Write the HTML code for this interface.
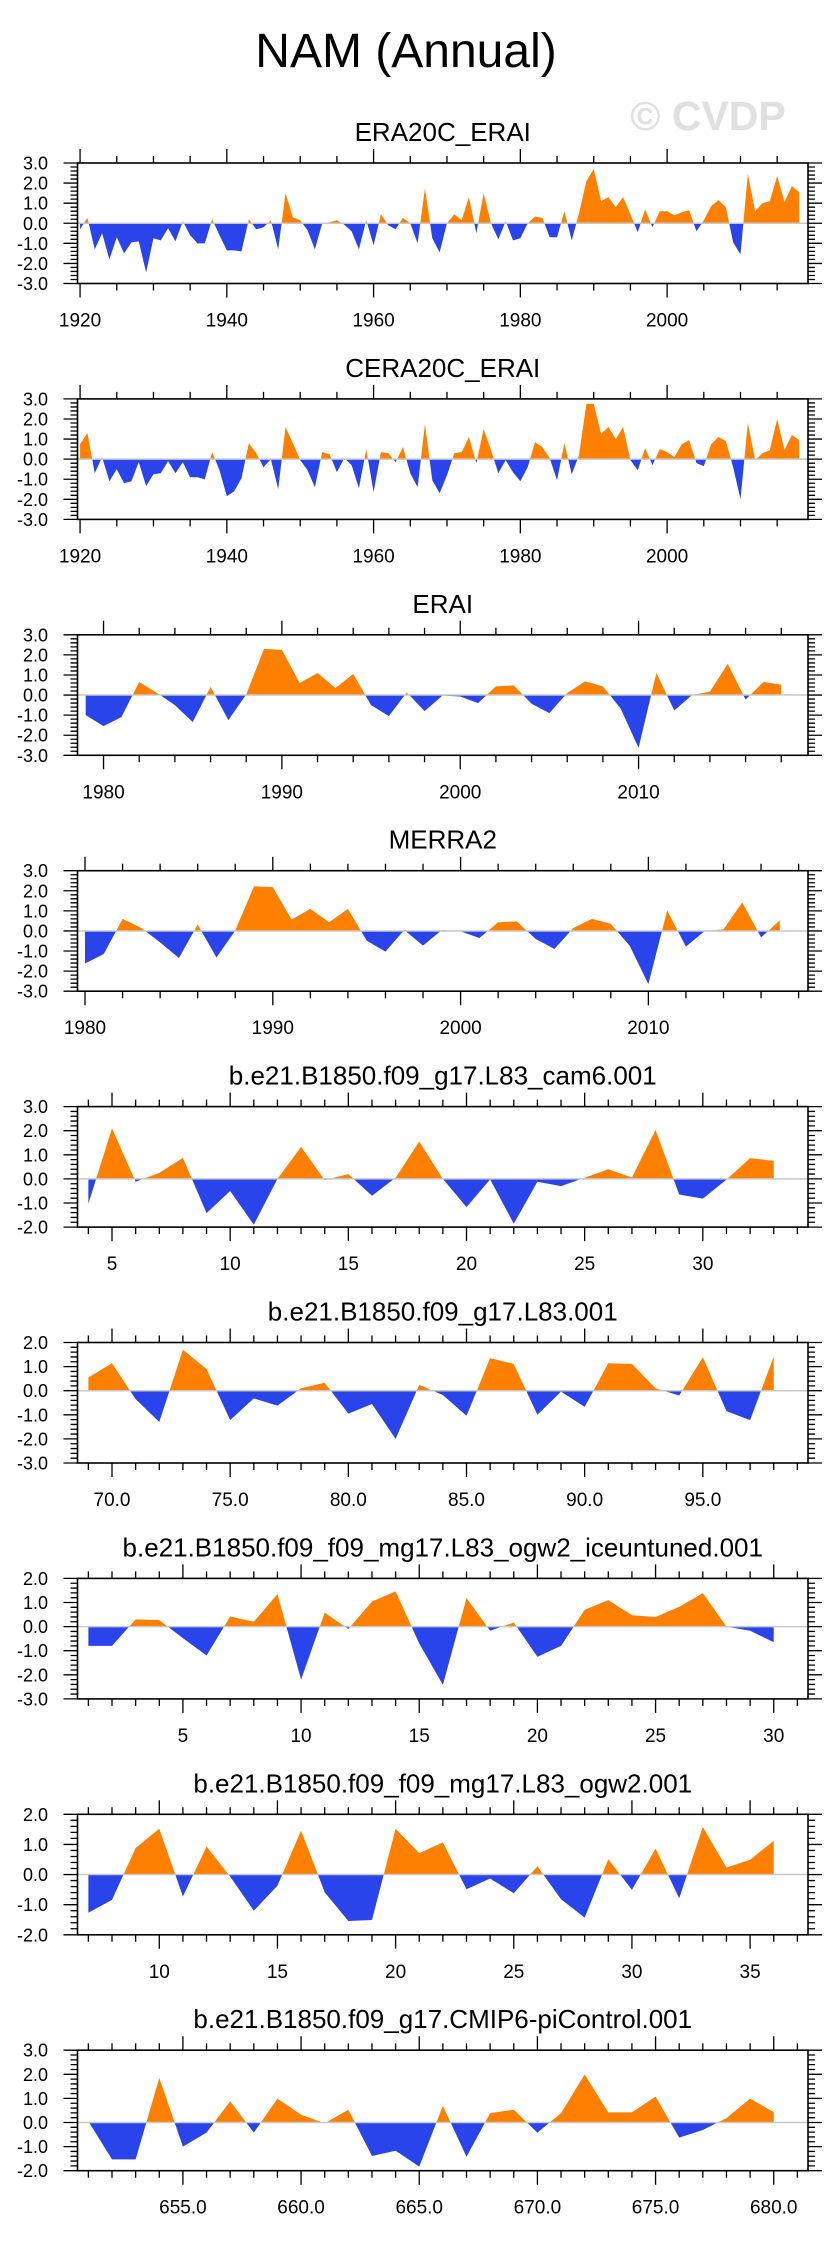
<!DOCTYPE html>
<html><head><meta charset="utf-8"><style>
html,body{margin:0;padding:0;background:#fff;}
svg{display:block;font-family:"Liberation Sans",sans-serif;}
</style></head><body>
<svg id="fig" width="829" height="2245" viewBox="0 0 829 2245" xmlns="http://www.w3.org/2000/svg">
<rect width="829" height="2245" fill="#fff"/>
<text x="406" y="67" font-size="48" text-anchor="middle" fill="#000">NAM (Annual)</text>
<text x="708" y="130" font-size="41" font-weight="bold" text-anchor="middle" fill="#e0e0e0">© CVDP</text>
<g id="panels"></g>
</svg>
<script>
// ---- data arrays ----
const era20cStart = 1920;
const era20cValues = [-0.3,0.27,-1.3,-0.5,-1.8,-0.7,-1.5,-0.95,-0.9,-2.45,-0.75,-0.85,-0.25,-0.9,0.1,-0.6,-1.0,-1.0,0.2,-0.6,-1.35,-1.35,-1.4,0.2,-0.3,-0.2,0.15,-1.3,1.5,0.3,0.15,-0.35,-1.3,0.0,0.05,0.15,-0.07,-0.4,-1.3,0.15,-1.1,0.45,-0.1,-0.3,0.27,0.0,-1.0,1.75,-0.75,-1.45,0.0,0.45,0.15,1.3,-0.5,1.5,0.0,-0.8,0.1,-0.85,-0.75,0.0,0.33,0.27,-0.7,-0.7,0.6,-0.85,0.5,2.1,2.7,1.1,1.3,0.8,1.3,0.45,-0.45,0.7,-0.2,0.6,0.6,0.4,0.55,0.65,-0.4,0.15,0.85,1.15,0.8,-0.95,-1.55,2.45,0.6,1.0,1.1,2.35,1.05,1.85,1.55];
const cera20cStart = 1920;
const cera20cValues = [0.75,1.3,-0.7,0.1,-1.1,-0.5,-1.2,-1.1,-0.15,-1.35,-0.75,-0.7,-0.1,-0.7,-0.15,-0.9,-0.9,-1.0,0.35,-0.55,-1.85,-1.6,-0.95,0.8,0.3,-0.4,0.0,-1.5,1.6,0.8,-0.05,-0.55,-1.4,0.35,0.25,-0.65,0.05,-0.3,-1.45,0.5,-1.65,0.35,0.3,-0.15,0.6,-0.7,-1.4,1.75,-1.05,-1.7,-0.8,0.3,0.35,1.1,-0.2,1.5,0.45,-0.7,-0.05,-0.65,-1.1,-0.4,0.85,0.6,0.05,-1.05,0.8,-0.75,0.2,2.75,2.75,1.25,1.6,1.0,1.6,-0.05,-0.55,0.55,-0.3,0.5,0.35,0.1,0.75,0.95,-0.2,-0.35,0.75,1.1,0.9,-0.4,-2.0,1.8,-0.05,0.3,0.45,2.0,0.45,1.2,0.95];
const eraiStart = 1979;
const eraiValues = [-1.0,-1.55,-1.1,0.65,0.1,-0.5,-1.35,0.4,-1.25,0.03,2.3,2.25,0.6,1.1,0.35,1.05,-0.5,-1.05,0.13,-0.8,-0.03,-0.07,-0.4,0.43,0.48,-0.43,-0.9,0.1,0.68,0.43,-0.68,-2.63,1.1,-0.77,0.0,0.17,1.55,-0.23,0.65,0.52];
const merra2Start = 1980;
const merra2Values = [-1.62,-1.15,0.6,0.15,-0.57,-1.35,0.32,-1.32,0.02,2.22,2.18,0.57,1.1,0.43,1.1,-0.48,-1.03,0.05,-0.73,0.05,-0.02,-0.35,0.43,0.47,-0.4,-0.9,0.15,0.6,0.35,-0.73,-2.65,1.02,-0.78,0.0,0.08,1.42,-0.32,0.53];
const cam6Start = 4;
const cam6Values = [-1.03,2.1,-0.12,0.25,0.87,-1.42,-0.5,-1.9,0.0,1.33,-0.05,0.2,-0.7,0.05,1.55,0.0,-1.17,-0.02,-1.86,-0.12,-0.3,0.05,0.4,0.06,2.03,-0.65,-0.82,-0.03,0.86,0.75];
const l83Start = 69;
const l83Values = [0.55,1.14,-0.35,-1.3,1.7,0.9,-1.22,-0.32,-0.62,0.1,0.33,-0.95,-0.55,-2.0,0.24,-0.18,-1.04,1.35,1.11,-1.0,-0.04,-0.67,1.14,1.11,0.1,-0.2,1.39,-0.85,-1.22,1.42];
const iceStart = 1;
const iceValues = [-0.8,-0.8,0.3,0.27,-0.48,-1.2,0.42,0.2,1.35,-2.2,0.58,-0.1,1.04,1.46,-0.7,-2.42,1.18,-0.17,0.17,-1.25,-0.8,0.7,1.1,0.47,0.4,0.82,1.39,0.0,-0.17,-0.65];
const ogw2Start = 7;
const ogw2Values = [-1.27,-0.84,0.88,1.52,-0.73,0.93,-0.07,-1.2,-0.37,1.46,-0.59,-1.54,-1.51,1.52,0.71,1.07,-0.49,-0.13,-0.62,0.27,-0.82,-1.43,0.51,-0.51,0.86,-0.79,1.58,0.23,0.49,1.12];
const piStart = 651;
const piValues = [0.05,-1.53,-1.53,1.85,-1.0,-0.42,0.88,-0.42,0.99,0.32,-0.03,0.53,-1.39,-1.17,-1.83,0.69,-1.42,0.39,0.53,-0.42,0.39,1.99,0.42,0.42,1.08,-0.63,-0.31,0.18,0.99,0.43];

const panelTitles = ["ERA20C_ERAI","CERA20C_ERAI","ERAI","MERRA2","b.e21.B1850.f09_g17.L83_cam6.001","b.e21.B1850.f09_g17.L83.001","b.e21.B1850.f09_f09_mg17.L83_ogw2_iceuntuned.001","b.e21.B1850.f09_f09_mg17.L83_ogw2.001","b.e21.B1850.f09_g17.CMIP6-piControl.001"];
const yTickLabels3 = ["3.0","2.0","1.0","0.0","-1.0","-2.0","-3.0"];
const xTickLabels1 = [1920,1940,1960,1980,2000];
const xTickLabels3 = [1980,1990,2000,2010];
const xTickLabels5 = [5,10,15,20,25,30];
const xTickLabels6 = [70,75,80,85,90,95];
const xTickLabels7 = [5,10,15,20,25,30];
const xTickLabels8 = [10,15,20,25,30,35];
const xTickLabels9 = [655,660,665,670,675,680];

const panels = [
 {start:era20cStart, vals:era20cValues, ymin:-3, ymax:3, maj:xTickLabels1, minStep:5, fmt:0, pl:0.35, pr:1.2},
 {start:cera20cStart, vals:cera20cValues, ymin:-3, ymax:3, maj:xTickLabels1, minStep:5, fmt:0, pl:0.35, pr:1.2},
 {start:eraiStart, vals:eraiValues, ymin:-3, ymax:3, maj:xTickLabels3, minStep:2, fmt:0, pl:0.46, pr:1.5},
 {start:merra2Start, vals:merra2Values, ymin:-3, ymax:3, maj:xTickLabels3, minStep:2, fmt:0, pl:0.4, pr:1.5},
 {start:cam6Start, vals:cam6Values, ymin:-2, ymax:3, maj:xTickLabels5, minStep:1, fmt:0, pl:0.46, pr:1.45},
 {start:l83Start, vals:l83Values, ymin:-3, ymax:2, maj:xTickLabels6, minStep:1, fmt:1, pl:0.46, pr:1.45},
 {start:iceStart, vals:iceValues, ymin:-3, ymax:2, maj:xTickLabels7, minStep:1, fmt:0, pl:0.46, pr:1.45},
 {start:ogw2Start, vals:ogw2Values, ymin:-2, ymax:2, maj:xTickLabels8, minStep:1, fmt:0, pl:0.46, pr:1.45},
 {start:piStart, vals:piValues, ymin:-2, ymax:3, maj:xTickLabels9, minStep:1, fmt:1, pl:0.46, pr:1.45}
];

const NS = "http://www.w3.org/2000/svg";
const root = document.getElementById('panels');
const FL = 77.5, FR = 808, FH = 120.5;
function mk(tag, attrs, parent){
  const e = document.createElementNS(NS, tag);
  for (const k in attrs) e.setAttribute(k, attrs[k]);
  parent.appendChild(e); return e;
}
panels.forEach((p, i) => {
  const top = 163 + 235.9 * i, bot = top + FH;
  const n = p.vals.length;
  const xmin = p.start - p.pl, xmax = p.start + n - 1 + p.pr;
  const xs = v => FL + (v - xmin) / (xmax - xmin) * (FR - FL);
  const ys = v => bot - (v - p.ymin) / (p.ymax - p.ymin) * FH;
  const g = mk('g', {}, root);
  
  
  const t = mk('text', {x: (FL + FR) / 2, y: top - 22, 'font-size': 26, 'text-anchor': 'middle', fill: '#000'}, g);
  t.textContent = panelTitles[i];
  
  
  // build points with zero crossings
  const pts = [];
  for (let k = 0; k < n; k++) {
    const x = p.start + k, v = p.vals[k];
    if (k > 0) {
      const pv = p.vals[k - 1];
      if ((pv > 0 && v < 0) || (pv < 0 && v > 0)) {
        const f = pv / (pv - v);
        pts.push([x - 1 + f, 0]);
      }
    }
    pts.push([x, v]);
  }
  const x0 = xs(pts[0][0]), x1 = xs(pts[pts.length - 1][0]), y0 = ys(0);
  let dp = `M${x0},${y0}`, dn = `M${x0},${y0}`;
  pts.forEach(q => {
    dp += ` L${xs(q[0]).toFixed(2)},${ys(Math.max(q[1], 0)).toFixed(2)}`;
    dn += ` L${xs(q[0]).toFixed(2)},${ys(Math.min(q[1], 0)).toFixed(2)}`;
  });
  dp += ` L${x1},${y0} Z`; dn += ` L${x1},${y0} Z`;
  const pa = mk('path', {d: dp, fill: '#ff8000'}, g);
  
  
  const na = mk('path', {d: dn, fill: '#2a44ec'}, g);
  
  
  const zl = mk('line', {x1: FL, x2: FR, y1: y0, y2: y0, stroke: '#c8c8c8', 'stroke-width': 1.5}, g);
  
  
  const fr = mk('rect', {x: FL, y: top, width: FR - FL, height: FH, fill: 'none', stroke: '#000', 'stroke-width': 1.6}, g);
  
  
  // y ticks
  let d = '';
  for (let v = p.ymin; v <= p.ymax + 1e-6; v += 0.2) {
    const y = ys(v).toFixed(2);
    const major = Math.abs(v - Math.round(v)) < 1e-6;
    const L = major ? 14 : 7;
    d += `M${FL},${y}h${-L}M${FR},${y}h${L}`;
  }
  // x ticks
  const firstMin = Math.ceil(xmin / p.minStep) * p.minStep;
  for (let v = firstMin; v <= xmax; v += p.minStep) {
    const x = xs(v).toFixed(2);
    const isMaj = p.maj.indexOf(v) >= 0 || (v % (p.minStep * 5) === 0 && p.minStep === 1) || (p.minStep===5 && v%20===0) || (p.minStep===2 && v%10===0);
    const L = isMaj ? 14 : 7;
    d += `M${x},${top}v${-L}M${x},${bot}v${L}`;
  }
  const tk = mk('path', {d: d, stroke: '#000', 'stroke-width': 1.3, fill: 'none'}, g);
  
  
  // y labels
  for (let v = p.ymax; v >= p.ymin; v--) {
    const lb = mk('text', {x: 48, y: ys(v) + 6.5, 'font-size': 18, 'text-anchor': 'end', fill: '#000'}, g);
    lb.textContent = v.toFixed(1);
    
    
  }
  // x labels
  p.maj.forEach(v => {
    const lb = mk('text', {x: xs(v), y: bot + 43, 'font-size': 19, 'text-anchor': 'middle', fill: '#000'}, g);
    lb.textContent = p.fmt ? v.toFixed(1) : String(v);
    
    
  });
});
</script>
</body></html>
